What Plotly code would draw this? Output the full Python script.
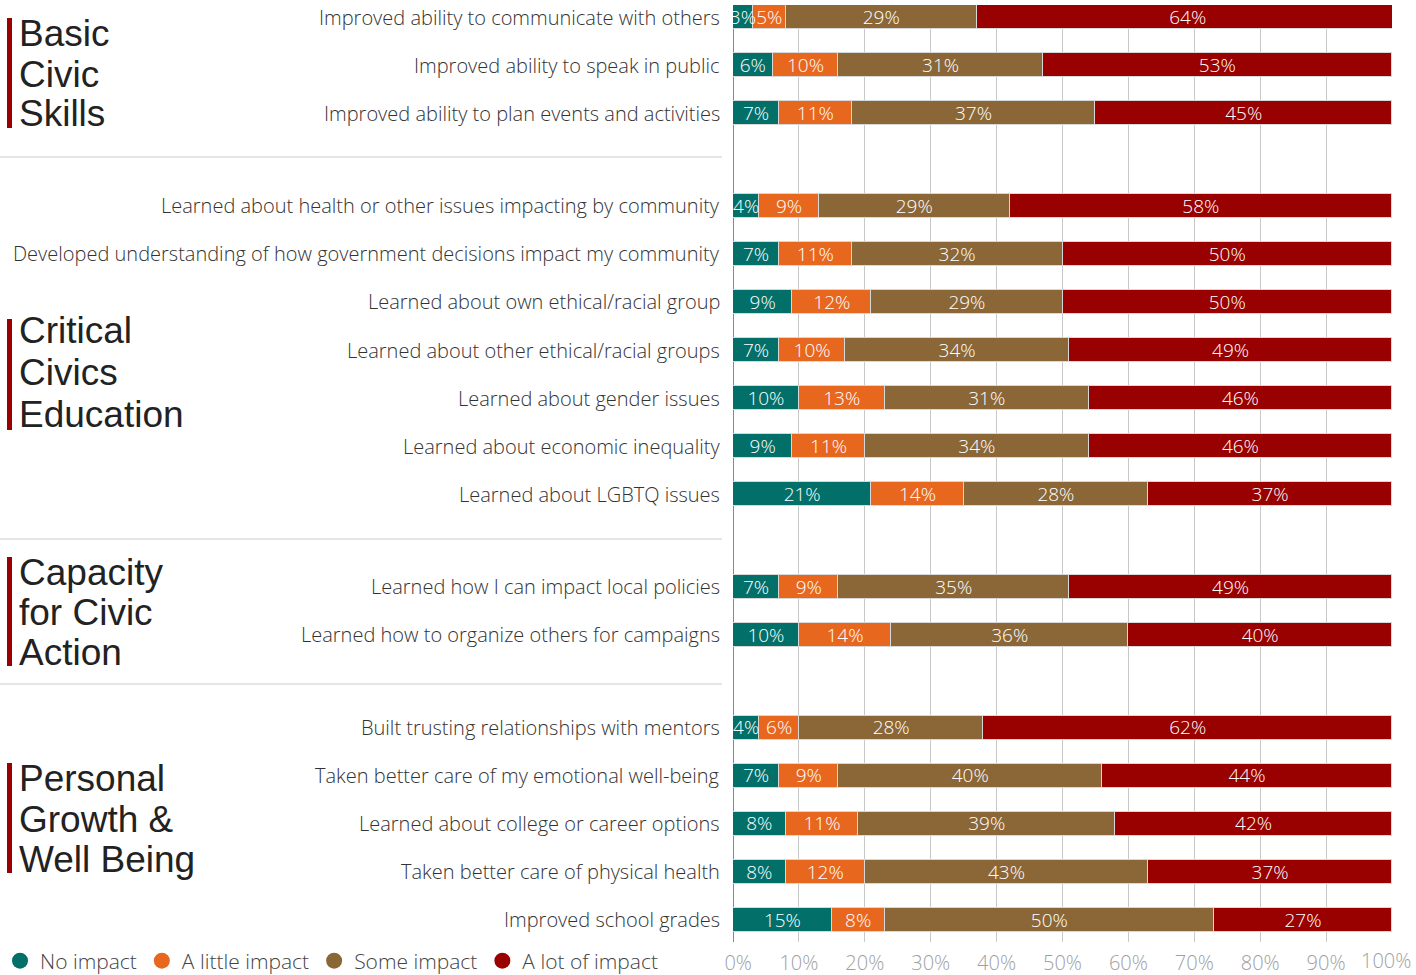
import plotly.graph_objects as go

W, H = 1416, 975

categories = [
    "Improved ability to communicate with others",
    "Improved ability to speak in public",
    "Improved ability to plan events and activities",
    "Learned about health or other issues impacting by community",
    "Developed understanding of how government decisions impact my community",
    "Learned about own ethical/racial group",
    "Learned about other ethical/racial groups",
    "Learned about gender issues",
    "Learned about economic inequality",
    "Learned about LGBTQ issues",
    "Learned how I can impact local policies",
    "Learned how to organize others for campaigns",
    "Built trusting relationships with mentors",
    "Taken better care of my emotional well-being",
    "Learned about college or career options",
    "Taken better care of physical health",
    "Improved school grades",
]
group_sizes = [3, 7, 2, 5]
group_titles = [
    ["Basic", "Civic", "Skills"],
    ["Critical", "Civics", "Education"],
    ["Capacity", "for Civic", "Action"],
    ["Personal", "Growth &", "Well Being"],
]

no_impact = [3, 6, 7, 4, 7, 9, 7, 10, 9, 21, 7, 10, 4, 7, 8, 8, 15]
little_impact = [5, 10, 11, 9, 11, 12, 10, 13, 11, 14, 9, 14, 6, 9, 11, 12, 8]
some_impact = [29, 31, 37, 29, 32, 29, 34, 31, 34, 28, 35, 36, 28, 40, 39, 43, 50]
lot_impact = [64, 53, 45, 58, 50, 50, 49, 46, 46, 37, 49, 40, 62, 44, 42, 37, 27]

series_names = ["No impact", "A little impact", "Some impact", "A lot of impact"]
series_values = [no_impact, little_impact, some_impact, lot_impact]
colors = ["#026f69", "#e8671f", "#8b6737", "#990000"]

tick_values = [0, 10, 20, 30, 40, 50, 60, 70, 80, 90, 100]
tick_labels = ["0%", "10%", "20%", "30%", "40%", "50%", "60%", "70%", "80%", "90%", "100%"]

FONT = "Open Sans"
TITLE_FONT = "Liberation Sans"
NB = "\u00a0"

def px(x):
    return x / W

def py(y):
    return 1 - y / H

# row positions (gap between groups)
GAP = 1.93
ypos = []
start = 0.0
for gi, n in enumerate(group_sizes):
    for k in range(n):
        ypos.append(start + k)
    start = start + n - 1 + GAP

fig = go.Figure()
for name, vals, col in zip(series_names, series_values, colors):
    fig.add_trace(go.Bar(
        y=ypos, x=vals, orientation="h", name=name,
        marker=dict(color=col, line=dict(color="#d8d8d8", width=1)),
        width=0.5, showlegend=False, hoverinfo="skip",
    ))

# value labels on top of all bars (centre of each segment, from the data)
TEXT_NUDGE = 0.04  # small optical offset so labels sit centred in the bar
cum = [0] * len(ypos)
for vals in series_values:
    mids = [c + v / 2 for c, v in zip(cum, vals)]
    fig.add_trace(go.Scatter(
        x=mids, y=[y + TEXT_NUDGE for y in ypos], mode="text",
        text=[f"{v}%" for v in vals],
        textposition="middle center",
        textfont=dict(color="white", size=19, family=FONT, weight=300),
        showlegend=False, hoverinfo="skip", cliponaxis=False,
    ))
    cum = [c + v for c, v in zip(cum, vals)]

for name, col in zip(series_names, colors):
    fig.add_trace(go.Scatter(
        x=[None], y=[None], mode="markers", name=name,
        marker=dict(color=col, size=17, symbol="circle"),
        showlegend=True,
    ))

annotations = []
for cat, y in zip(categories, ypos):
    annotations.append(dict(
        text=cat, x=px(722), xref="paper", y=y, yref="y",
        xanchor="right", yanchor="middle", showarrow=False,
        font=dict(size=20, color="#333333", family=FONT, weight=300),
    ))

# group titles: line centres in pixels, red bar extent
title_lines_y = [
    [33, 74, 114],
    [331, 372, 414],
    [572, 612, 652],
    [778, 819, 859],
]
bar_extent = [(18, 128), (319, 430), (557, 666), (763, 873)]
shapes = []
for lines, ys, (b0, b1) in zip(group_titles, title_lines_y, bar_extent):
    for t, yy in zip(lines, ys):
        annotations.append(dict(
            text=t, x=px(17), xref="paper", y=py(yy), yref="paper",
            xanchor="left", yanchor="middle", showarrow=False,
            font=dict(size=37, color="#222222", family=TITLE_FONT),
        ))
    shapes.append(dict(type="rect", xref="paper", yref="paper",
                       x0=px(7), x1=px(12), y0=py(b1), y1=py(b0),
                       fillcolor="#9b0000", line=dict(width=0)))

for sy in [157, 539, 684]:
    shapes.append(dict(type="line", xref="paper", yref="paper",
                       x0=0, x1=px(722), y0=py(sy), y1=py(sy),
                       line=dict(color="#dddddd", width=1.5)))

TICK_FONT = dict(size=20, color="#a0a0a0", family=FONT, weight=300)

# first tick label pulled inward a little; last one is right-aligned to the edge
tick_text = list(tick_labels)
tick_text[0] = NB * 2 + tick_text[0]
tick_text[-1] = ""
annotations.append(dict(
    text=tick_labels[-1], x=px(1412), xref="paper", y=0, yref="paper",
    xanchor="right", yanchor="bottom", showarrow=False, font=TICK_FONT,
    borderpad=0,
))

fig.update_layout(
    width=W, height=H,
    margin=dict(l=0, r=0, t=0, b=0, autoexpand=False),
    plot_bgcolor="white", paper_bgcolor="white",
    barmode="stack", bargap=0,
    annotations=annotations, shapes=shapes,
    font=dict(family=FONT),
    xaxis=dict(
        domain=[px(733), px(1392)], range=[0, 100],
        tickmode="array", tickvals=tick_values, ticktext=tick_text,
        showgrid=True, gridcolor="#c8c8c8", gridwidth=1,
        zeroline=True, zerolinecolor="#888888", zerolinewidth=1,
        tickfont=TICK_FONT,
        ticklabelstandoff=7, ticklabeloverflow="allow",
        fixedrange=True, automargin=False,
    ),
    yaxis=dict(
        domain=[py(942), py(5)], range=[19.25, -0.25],
        showticklabels=False, showgrid=False, zeroline=False,
        fixedrange=True, automargin=False,
    ),
    legend=dict(
        orientation="h",
        x=0, xanchor="left", y=py(961), yanchor="middle",
        font=dict(size=21, color="#444444", family=FONT, weight=300),
        itemwidth=30, bgcolor="rgba(0,0,0,0)", traceorder="normal",
    ),
)

fig.write_html(
    "out.html",
    config={"displayModeBar": False},
    post_script="document.body.style.margin='0';document.body.style.overflow='hidden';",
)
